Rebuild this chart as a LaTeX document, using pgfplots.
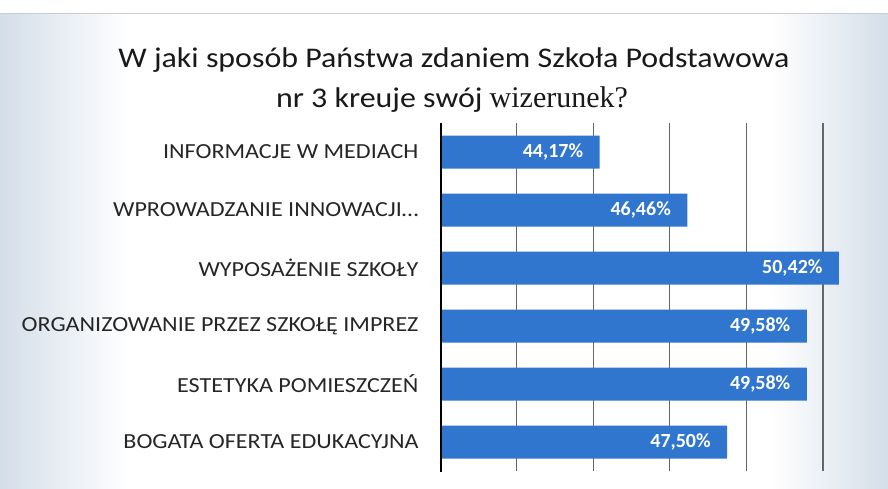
\documentclass[border=0pt]{standalone}
\usepackage{pgfplots}
\pgfplotsset{compat=1.18}
\usepackage{fontspec}
\setmainfont{Carlito}[FakeStretch=1.12]
\newfontfamily\valfont{Carlito}
\newfontfamily\serifish{Liberation Serif}
\definecolor{barblue}{RGB}{48,118,206}
\definecolor{scan}{RGB}{212,222,233}
\begin{document}
\begin{tikzpicture}
\useasboundingbox (0pt,0pt) rectangle (888pt,488pt);
\fill[white] (0pt,0pt) rectangle (888pt,488pt);
\shade[left color=scan, right color=white] (0pt,0pt) rectangle (130pt,474pt);
\shade[left color=white, right color=scan] (770pt,0pt) rectangle (888pt,474pt);
\draw[gray!40, line width=1pt] (0pt,474pt) -- (888pt,474pt);
\node[font=\fontsize{28.5}{28}\selectfont, text=black!90] at (454pt,428pt) {W jaki sposób Państwa zdaniem Szkoła Podstawowa};
\node[font=\fontsize{28.5}{28}\selectfont, text=black!90] at (452pt,388pt) {nr 3 kreuje swój {\serifish\fontsize{30}{30}\selectfont wizerunek?}};
\begin{axis}[
  at={(440pt,17pt)}, anchor=south west,
  scale only axis, width=448pt, height=348pt,
  xmin=40, xmax=51.7, ymin=-0.5, ymax=5.5,
  y dir=reverse,
  xbar, bar width=33pt,
  axis line style={draw=none},
  xtick={42,44,46,48,50}, xticklabels={},
  xmajorgrids, major grid style={black!60, line width=1.3pt},
  major tick length=0pt,
  ytick={0,1,2,3,4,5},
  yticklabels={INFORMACJE W MEDIACH, {WPROWADZANIE INNOWACJI\ldots}, WYPOSAŻENIE SZKOŁY, ORGANIZOWANIE PRZEZ SZKOŁĘ IMPREZ, ESTETYKA POMIESZCZEŃ, BOGATA OFERTA EDUKACYJNA},
  yticklabel style={font=\fontsize{21.5}{22}\selectfont, text=black!85, xshift=-18pt},
  point meta=x,
  nodes near coords={\pgfmathprintnumber[fixed,fixed zerofill,precision=2,use comma,assume math mode=true]{\pgfplotspointmeta}\%},
  every node near coord/.append style={anchor=east, xshift=-13pt, text=white, font=\valfont\bfseries\fontsize{20}{20}\selectfont},
]
\addplot[fill=barblue, draw=none] coordinates {(44.17,0) (46.46,1) (50.42,2) (49.58,3) (49.58,4) (47.50,5)};
\draw[black, line width=3pt] (axis cs:40,-0.53) -- (axis cs:40,5.55);
\end{axis}
\end{tikzpicture}
\end{document}
